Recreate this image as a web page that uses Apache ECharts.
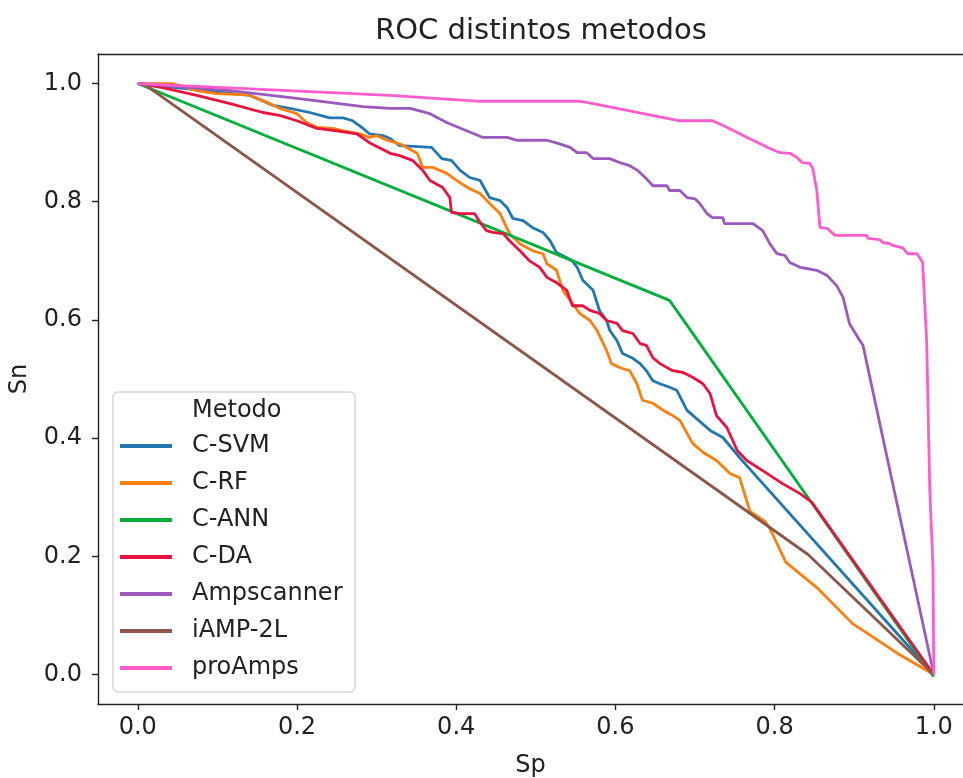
<!DOCTYPE html>
<html>
<head>
<meta charset="utf-8">
<script src="https://cdn.jsdelivr.net/npm/echarts@6/dist/echarts.min.js"></script>
<style>html,body{margin:0;padding:0;background:#fff}#c{width:963px;height:778px}</style>
</head>
<body>
<div id="c"></div>
<script>
var titleText = 'ROC distintos metodos';
var xName = 'Sp';
var yName = 'Sn';
var legendTitle = 'Metodo';
var seriesNames = ['C-SVM', 'C-RF', 'C-ANN', 'C-DA', 'Ampscanner', 'iAMP-2L', 'proAmps'];
var seriesColors = ['#1f77b4', '#ff7f0e', '#00b038', '#ea1340', '#9b59bd', '#8c564b', '#ff5ccd'];
var xTicks = [0, 0.2, 0.4, 0.6, 0.8, 1.0];
var yTicks = [0, 0.2, 0.4, 0.6, 0.8, 1.0];

var svmData = [[0,1],[0.141,0.980],[0.149,0.975],[0.170,0.963],[0.191,0.958],[0.216,0.951],[0.241,0.942],[0.258,0.942],[0.270,0.937],[0.283,0.924],[0.291,0.915],[0.308,0.912],[0.317,0.907],[0.329,0.895],[0.369,0.892],[0.382,0.873],[0.394,0.870],[0.405,0.853],[0.417,0.841],[0.430,0.836],[0.442,0.807],[0.455,0.802],[0.464,0.790],[0.471,0.772],[0.484,0.768],[0.496,0.756],[0.509,0.748],[0.518,0.734],[0.526,0.714],[0.545,0.701],[0.552,0.689],[0.559,0.667],[0.572,0.650],[0.580,0.616],[0.589,0.599],[0.593,0.582],[0.602,0.565],[0.609,0.543],[0.622,0.535],[0.631,0.526],[0.639,0.514],[0.647,0.497],[0.656,0.492],[0.668,0.486],[0.677,0.481],[0.690,0.447],[0.702,0.433],[0.719,0.413],[0.735,0.401],[0.756,0.367],[1,0]];

var rfData = [[0,1],[0.044,1.0],[0.074,0.988],[0.099,0.983],[0.137,0.981],[0.149,0.976],[0.166,0.966],[0.178,0.958],[0.200,0.949],[0.212,0.934],[0.225,0.926],[0.245,0.924],[0.258,0.920],[0.279,0.915],[0.291,0.909],[0.300,0.912],[0.313,0.904],[0.329,0.898],[0.351,0.882],[0.358,0.858],[0.371,0.858],[0.388,0.848],[0.405,0.832],[0.417,0.822],[0.430,0.814],[0.442,0.797],[0.455,0.780],[0.467,0.746],[0.480,0.729],[0.496,0.717],[0.509,0.712],[0.514,0.695],[0.526,0.684],[0.534,0.650],[0.546,0.628],[0.555,0.611],[0.568,0.599],[0.577,0.582],[0.589,0.548],[0.595,0.526],[0.606,0.519],[0.618,0.514],[0.627,0.492],[0.634,0.464],[0.647,0.459],[0.660,0.447],[0.672,0.438],[0.681,0.430],[0.690,0.408],[0.697,0.391],[0.710,0.376],[0.727,0.362],[0.744,0.340],[0.756,0.333],[0.769,0.276],[0.788,0.259],[0.794,0.247],[0.814,0.190],[0.853,0.147],[0.898,0.086],[0.954,0.036],[1,0]];

var annData = [[0,1],[0.668,0.633],[1,-0.004]];

var daData = [[0,1],[0.031,0.993],[0.074,0.980],[0.116,0.966],[0.157,0.951],[0.178,0.946],[0.200,0.937],[0.225,0.924],[0.250,0.920],[0.275,0.915],[0.291,0.900],[0.317,0.882],[0.329,0.878],[0.345,0.870],[0.358,0.853],[0.367,0.836],[0.383,0.824],[0.392,0.807],[0.394,0.782],[0.405,0.780],[0.423,0.780],[0.430,0.765],[0.438,0.751],[0.446,0.748],[0.459,0.746],[0.467,0.734],[0.480,0.717],[0.492,0.700],[0.505,0.689],[0.514,0.672],[0.526,0.663],[0.539,0.650],[0.546,0.624],[0.559,0.624],[0.568,0.616],[0.580,0.611],[0.589,0.599],[0.602,0.594],[0.609,0.582],[0.622,0.577],[0.631,0.560],[0.639,0.557],[0.647,0.536],[0.656,0.526],[0.672,0.514],[0.685,0.511],[0.697,0.503],[0.710,0.492],[0.719,0.475],[0.727,0.438],[0.740,0.418],[0.753,0.379],[0.765,0.362],[0.785,0.345],[0.810,0.323],[0.832,0.306],[0.847,0.291],[1,0]];

var ampData = [[0,1],[0.116,0.988],[0.200,0.975],[0.283,0.961],[0.317,0.958],[0.342,0.958],[0.367,0.949],[0.388,0.934],[0.413,0.920],[0.433,0.909],[0.464,0.909],[0.476,0.904],[0.514,0.904],[0.530,0.898],[0.543,0.892],[0.552,0.883],[0.564,0.883],[0.572,0.873],[0.593,0.873],[0.606,0.866],[0.618,0.861],[0.628,0.853],[0.639,0.839],[0.647,0.827],[0.665,0.827],[0.668,0.819],[0.681,0.819],[0.690,0.807],[0.700,0.805],[0.706,0.797],[0.715,0.780],[0.722,0.773],[0.735,0.773],[0.737,0.763],[0.773,0.763],[0.785,0.751],[0.794,0.729],[0.803,0.712],[0.813,0.709],[0.819,0.697],[0.832,0.689],[0.840,0.687],[0.853,0.684],[0.866,0.675],[0.878,0.658],[0.886,0.638],[0.894,0.594],[0.907,0.565],[0.911,0.557],[1,0]];

var iampData = [[0,1],[0.007,1.0],[0.842,0.203],[1,0]];

var proData = [[0,1],[0.317,0.980],[0.430,0.970],[0.555,0.970],[0.564,0.968],[0.681,0.937],[0.722,0.937],[0.740,0.926],[0.765,0.909],[0.794,0.890],[0.807,0.883],[0.819,0.882],[0.828,0.875],[0.835,0.866],[0.844,0.865],[0.848,0.856],[0.853,0.819],[0.857,0.756],[0.866,0.755],[0.876,0.743],[0.916,0.743],[0.917,0.738],[0.932,0.736],[0.936,0.731],[0.945,0.729],[0.948,0.726],[0.961,0.722],[0.967,0.712],[0.979,0.712],[0.986,0.697],[0.991,0.565],[0.995,0.311],[0.999,0.181],[1,0]];

var allData = [svmData, rfData, annData, daData, ampData, iampData, proData];

var FONT = 'DejaVu Sans';
var chart = echarts.init(document.getElementById('c'), null, {renderer: 'canvas'});

var series = seriesNames.map(function (n, i) {
  return {
    name: n, type: 'line', data: allData[i], showSymbol: false, symbol: 'none',
    lineStyle: {width: 2.8, color: seriesColors[i]}, itemStyle: {color: seriesColors[i]},
    clip: true, animation: false, z: 2
  };
});

var option = {
  animation: false,
  backgroundColor: '#fff',
  title: {
    text: titleText, left: 536, top: 12, textAlign: 'center',
    textStyle: {fontFamily: FONT, fontSize: 29, fontWeight: 'normal', color: '#222'}
  },
  grid: {left: 98, top: 54, right: 0, height: 650, containLabel: false, outerBoundsMode: 'none'},
  xAxis: [{
    type: 'value', min: -0.05, max: 1.0367, position: 'bottom',
    name: xName, nameLocation: 'middle', nameGap: 50,
    nameTextStyle: {fontFamily: FONT, fontSize: 24, color: '#222'},
    axisLine: {onZero: false, lineStyle: {color: '#222', width: 1.4}},
    axisTick: {show: true, length: 6, lineStyle: {color: '#222', width: 1.4}, customValues: xTicks},
    axisLabel: {fontFamily: FONT, fontSize: 24, color: '#222', margin: 12, customValues: xTicks,
      formatter: function (v) { return v.toFixed(1); }},
    splitLine: {show: false}
  }, {
    type: 'value', min: -0.05, max: 1.0367, position: 'top',
    axisLine: {onZero: false, lineStyle: {color: '#222', width: 1.4}},
    axisTick: {show: false}, axisLabel: {show: false}, splitLine: {show: false}
  }],
  yAxis: [{
    type: 'value', min: -0.05, max: 1.05, position: 'left',
    name: yName, nameLocation: 'middle', nameGap: 66, nameRotate: 90,
    nameTextStyle: {fontFamily: FONT, fontSize: 24, color: '#222'},
    axisLine: {onZero: false, lineStyle: {color: '#222', width: 1.4}},
    axisTick: {show: true, length: 6, lineStyle: {color: '#222', width: 1.4}, customValues: yTicks},
    axisLabel: {fontFamily: FONT, fontSize: 24, color: '#222', margin: 16, customValues: yTicks,
      formatter: function (v) { return v.toFixed(1); }},
    splitLine: {show: false}
  }],
  legend: {
    data: seriesNames, orient: 'vertical', left: 120, top: 433, padding: 0,
    icon: 'rect', itemWidth: 52, itemHeight: 4, itemGap: 11,
    textStyle: {fontFamily: FONT, fontSize: 24, color: '#222', lineHeight: 26, padding: [0, 0, 0, 15]},
    z: 10
  },
  graphic: [{
    type: 'rect', shape: {x: 113, y: 392, width: 242, height: 300, r: 5},
    style: {fill: 'rgba(255,255,255,0.8)', stroke: '#d6d6d6', lineWidth: 1.5}, z: 8
  }, {
    type: 'text', x: 192, y: 411,
    style: {text: legendTitle, fontFamily: FONT, fontSize: 24, fill: '#222', verticalAlign: 'middle', align: 'left'},
    z: 11
  }],
  series: series
};
chart.setOption(option);
</script>
</body>
</html>
